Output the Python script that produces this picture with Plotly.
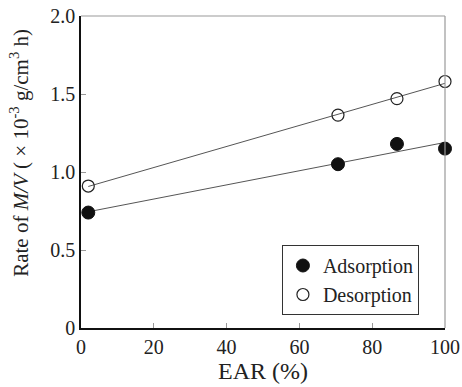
import numpy as np
import plotly.graph_objects as go

ear_ads = [2, 70.6, 86.8, 100]
rate_ads = [0.74, 1.05, 1.18, 1.15]
ear_des = [2, 70.6, 86.8, 100]
rate_des = [0.91, 1.365, 1.47, 1.58]
x_ticks = [0, 20, 40, 60, 80, 100]
y_ticks = [0, 0.5, 1.0, 1.5, 2.0]
y_tick_labels = ["0", "0.5", "1.0", "1.5", "2.0"]

FAM = "Liberation Serif"
font = dict(family=FAM, size=20, color="#222")

fig = go.Figure()

for xs, ys in [(ear_ads, rate_ads), (ear_des, rate_des)]:
    k, b = np.polyfit(xs, ys, 1)
    xl = [min(xs), max(xs)]
    fig.add_trace(go.Scatter(x=xl, y=[k * v + b for v in xl], mode="lines",
                             line=dict(color="#555", width=1), showlegend=False,
                             hoverinfo="skip", cliponaxis=False))

fig.add_trace(go.Scatter(x=ear_ads, y=rate_ads, mode="markers", name="Adsorption",
                         marker=dict(symbol="circle", size=13, color="#111",
                                     line=dict(color="#111", width=1)),
                         cliponaxis=False))
fig.add_trace(go.Scatter(x=ear_des, y=rate_des, mode="markers", name="Desorption",
                         marker=dict(symbol="circle-open", size=12, color="#222",
                                     line=dict(color="#222", width=1.2)),
                         cliponaxis=False))

fig.update_layout(
    width=462, height=387,
    margin=dict(l=81, r=17, t=16, b=59, autoexpand=False),
    paper_bgcolor="white", plot_bgcolor="white",
    font=font,
    legend=dict(x=0.552, y=0.266, xanchor="left", yanchor="top",
                bordercolor="#333", borderwidth=1, bgcolor="white",
                font=dict(family=FAM, size=20, color="#222"),
                itemwidth=30, tracegroupgap=0),
    xaxis=dict(range=[0, 100], tickvals=x_ticks, showgrid=False, zeroline=False,
               automargin=False,
               showline=True, linecolor="#111", linewidth=1.5,
               ticks="inside", ticklen=5, tickcolor="#999",
               title=dict(text="EAR (%)", standoff=0)),
    yaxis=dict(range=[0, 2.0], tickvals=y_ticks, ticktext=y_tick_labels,
               showgrid=False, zeroline=False, automargin=False,
               showline=True, linecolor="#111", linewidth=1.5,
               ticks="inside", ticklen=5, tickcolor="#999"),
    annotations=[
        dict(text="Rate of <i>M/V</i> ( × 10<sup>-3</sup> g/cm<sup>3</sup> h)",
             xref="paper", yref="paper", x=-0.168, y=0.561,
             xanchor="center", yanchor="middle", textangle=-90, showarrow=False,
             font=dict(family=FAM, size=21, color="#222")),
    ],
    shapes=[
        dict(type="line", xref="paper", yref="paper", x0=0, x1=1, y0=1, y1=1,
             line=dict(color="#999", width=1.2)),
        dict(type="line", xref="paper", yref="paper", x0=1, x1=1, y0=0, y1=1,
             line=dict(color="#999", width=1.2)),
    ],
)

fig.write_html("out.html", config={"displayModeBar": False},
               post_script="document.body.style.margin='0';document.body.style.overflow='hidden';")
